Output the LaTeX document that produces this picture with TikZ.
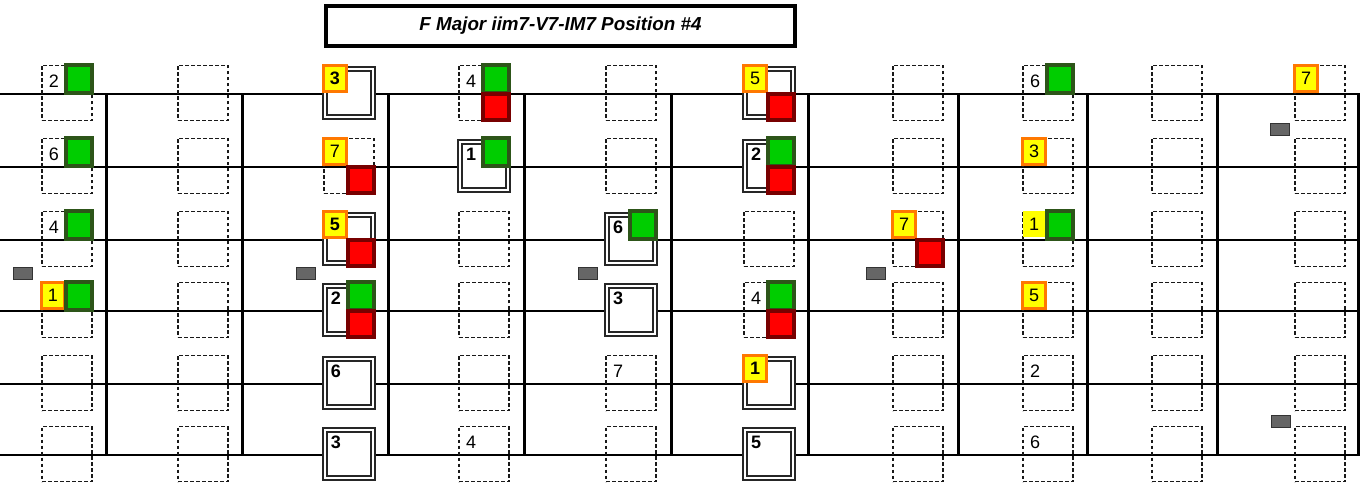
\documentclass[tikz,border=0pt]{standalone}
\usepackage{fontspec}
\setmainfont{Liberation Sans}
\definecolor{ifill}{RGB}{255,255,0}
\definecolor{iline}{RGB}{255,120,0}
\definecolor{iifill}{RGB}{0,205,0}
\definecolor{iiline}{RGB}{45,85,25}
\definecolor{vfill}{RGB}{255,0,0}
\definecolor{vline}{RGB}{120,0,0}
\newcommand{\degfont}{\fontsize{9}{11}\selectfont}
\begin{document}
\begin{tikzpicture}[x=0.5pt, y=-0.5pt,
    string/.style={line width=0.65pt, black},
    fret/.style={line width=1.5pt, black},
    cell/.style={rectangle, draw=black!90, dash pattern=on 1.8pt off 1.2pt, line width=0.9pt,
                 minimum width=25pt, minimum height=27.5pt, inner sep=0pt},
    boxed/.style={rectangle, draw=black!85, double=white, double distance=1.1pt, line width=0.85pt,
                  fill=white, minimum width=24pt, minimum height=24pt, inner sep=0pt},
    deg/.style={font=\degfont, inner sep=0pt, xshift=-6.5pt, yshift=6pt},
    degb/.style={deg, font=\degfont\bfseries},
    ichord/.style={rectangle, fill=ifill, draw=iline, line width=1.5pt, minimum width=11.5pt,
                   minimum height=13pt, inner sep=0pt, xshift=-7pt, yshift=7.25pt, font=\degfont},
    iichord/.style={rectangle, fill=iifill, draw=iiline, line width=2pt, minimum width=13pt,
                    minimum height=14pt, inner sep=0pt, xshift=6pt, yshift=7pt},
    vchord/.style={rectangle, fill=vfill, draw=vline, line width=2pt, minimum size=13pt,
                   inner sep=0pt, xshift=6pt, yshift=-7pt},
    dot/.style={rectangle, fill=black!60, draw=black!80, line width=0.5pt, minimum width=9.5pt,
                minimum height=6pt, inner sep=0pt},
]
\useasboundingbox (0,0) rectangle (1360,486);

% Titolo
\node[draw, line width=2pt, minimum width=234.5pt, minimum height=20pt,
      font=\fontsize{9.4}{11}\selectfont\bfseries\itshape] (titolo) at (560.5,26) {F Major iim7-V7-IM7 Position \#4};

% Corde
\draw[string] (0,94) -- (1360,94);
\draw[string] (0,167) -- (1360,167);
\draw[string] (0,240) -- (1360,240);
\draw[string] (0,311) -- (1360,311);
\draw[string] (0,384) -- (1360,384);
\draw[string] (0,455) -- (1360,455);

% Tasti
\draw[fret] (106,94) -- (106,455);
\draw[fret] (242,94) -- (242,455);
\draw[fret] (388,94) -- (388,455);
\draw[fret] (524,94) -- (524,455);
\draw[fret] (671,94) -- (671,455);
\draw[fret] (808,94) -- (808,455);
\draw[fret] (958,94) -- (958,455);
\draw[fret] (1087,94) -- (1087,455);
\draw[fret] (1217,94) -- (1217,455);
\draw[fret] (1358,94) -- (1358,455);

% Segni di posizione
\node[dot] (p1) at (23,274) {};
\node[dot] (p2) at (306,274) {};
\node[dot] (p3) at (588,274) {};
\node[dot] (p4) at (876,274) {};
\node[dot] (p5) at (1280,130) {};
\node[dot] (p6) at (1281,421) {};

% Colonna 1
\node[cell] (c1s1) at (67,93) {};  \node[deg] (n1s1) at (c1s1) {2}; \node[iichord] (g1s1) at (c1s1) {};
\node[cell] (c1s2) at (67,166) {}; \node[deg] (n1s2) at (c1s2) {6}; \node[iichord] (g1s2) at (c1s2) {};
\node[cell] (c1s3) at (67,239) {}; \node[deg] (n1s3) at (c1s3) {4}; \node[iichord] (g1s3) at (c1s3) {};
\node[cell] (c1s4) at (67,310) {}; \node[ichord] (y1s4) at (c1s4) {1}; \node[iichord] (g1s4) at (c1s4) {};
\node[cell] (c1s5) at (67,383) {};
\node[cell] (c1s6) at (67,454) {};

% Colonna 2
\node[cell] (c2s1) at (203,93) {};
\node[cell] (c2s2) at (203,166) {};
\node[cell] (c2s3) at (203,239) {};
\node[cell] (c2s4) at (203,310) {};
\node[cell] (c2s5) at (203,383) {};
\node[cell] (c2s6) at (203,454) {};

% Colonna 3
\node[boxed] (c3s1) at (349,93) {};  \node[ichord] (y3s1) at (c3s1) {\bfseries 3};
\node[cell] (c3s2) at (349,166) {};  \node[ichord] (y3s2) at (c3s2) {7}; \node[vchord] (r3s2) at (c3s2) {};
\node[boxed] (c3s3) at (349,239) {}; \node[ichord] (y3s3) at (c3s3) {\bfseries 5}; \node[vchord] (r3s3) at (c3s3) {};
\node[boxed] (c3s4) at (349,310) {}; \node[degb] (n3s4) at (c3s4) {2}; \node[iichord] (g3s4) at (c3s4) {}; \node[vchord] (r3s4) at (c3s4) {};
\node[boxed] (c3s5) at (349,383) {}; \node[degb] (n3s5) at (c3s5) {6};
\node[boxed] (c3s6) at (349,454) {}; \node[degb] (n3s6) at (c3s6) {3};

% Colonna 4
\node[cell] (c4s1) at (484,93) {};   \node[deg] (n4s1) at (c4s1) {4}; \node[iichord] (g4s1) at (c4s1) {}; \node[vchord] (r4s1) at (c4s1) {};
\node[boxed] (c4s2) at (484,166) {}; \node[degb] (n4s2) at (c4s2) {1}; \node[iichord] (g4s2) at (c4s2) {};
\node[cell] (c4s3) at (484,239) {};
\node[cell] (c4s4) at (484,310) {};
\node[cell] (c4s5) at (484,383) {};
\node[cell] (c4s6) at (484,454) {};  \node[deg] (n4s6) at (c4s6) {4};

% Colonna 5
\node[cell] (c5s1) at (631,93) {};
\node[cell] (c5s2) at (631,166) {};
\node[boxed] (c5s3) at (631,239) {}; \node[degb] (n5s3) at (c5s3) {6}; \node[iichord] (g5s3) at (c5s3) {};
\node[boxed] (c5s4) at (631,310) {}; \node[degb] (n5s4) at (c5s4) {3};
\node[cell] (c5s5) at (631,383) {};  \node[deg] (n5s5) at (c5s5) {7};
\node[cell] (c5s6) at (631,454) {};

% Colonna 6
\node[boxed] (c6s1) at (769,93) {};  \node[ichord] (y6s1) at (c6s1) {5}; \node[vchord] (r6s1) at (c6s1) {};
\node[boxed] (c6s2) at (769,166) {}; \node[degb] (n6s2) at (c6s2) {2}; \node[iichord] (g6s2) at (c6s2) {}; \node[vchord] (r6s2) at (c6s2) {};
\node[cell] (c6s3) at (769,239) {};
\node[cell] (c6s4) at (769,310) {};  \node[deg] (n6s4) at (c6s4) {4}; \node[iichord] (g6s4) at (c6s4) {}; \node[vchord] (r6s4) at (c6s4) {};
\node[boxed] (c6s5) at (769,383) {}; \node[ichord] (y6s5) at (c6s5) {\bfseries 1};
\node[boxed] (c6s6) at (769,454) {}; \node[degb] (n6s6) at (c6s6) {5};

% Colonna 7
\node[cell] (c7s1) at (918,93) {};
\node[cell] (c7s2) at (918,166) {};
\node[cell] (c7s3) at (918,239) {}; \node[ichord] (y7s3) at (c7s3) {7}; \node[vchord] (r7s3) at (c7s3) {};
\node[cell] (c7s4) at (918,310) {};
\node[cell] (c7s5) at (918,383) {};
\node[cell] (c7s6) at (918,454) {};

% Colonna 8
\node[cell] (c8s1) at (1048,93) {};  \node[deg] (n8s1) at (c8s1) {6}; \node[iichord] (g8s1) at (c8s1) {};
\node[cell] (c8s2) at (1048,166) {}; \node[ichord] (y8s2) at (c8s2) {3};
\node[cell] (c8s3) at (1048,239) {}; \node[ichord, draw=none] (y8s3) at (c8s3) {1}; \node[iichord] (g8s3) at (c8s3) {};
\node[cell] (c8s4) at (1048,310) {}; \node[ichord] (y8s4) at (c8s4) {5};
\node[cell] (c8s5) at (1048,383) {}; \node[deg] (n8s5) at (c8s5) {2};
\node[cell] (c8s6) at (1048,454) {}; \node[deg] (n8s6) at (c8s6) {6};

% Colonna 9
\node[cell] (c9s1) at (1177,93) {};
\node[cell] (c9s2) at (1177,166) {};
\node[cell] (c9s3) at (1177,239) {};
\node[cell] (c9s4) at (1177,310) {};
\node[cell] (c9s5) at (1177,383) {};
\node[cell] (c9s6) at (1177,454) {};

% Colonna 10
\node[cell] (c10s1) at (1320,93) {}; \node[ichord] (y10s1) at (c10s1) {7};
\node[cell] (c10s2) at (1320,166) {};
\node[cell] (c10s3) at (1320,239) {};
\node[cell] (c10s4) at (1320,310) {};
\node[cell] (c10s5) at (1320,383) {};
\node[cell] (c10s6) at (1320,454) {};

\end{tikzpicture}
\end{document}
